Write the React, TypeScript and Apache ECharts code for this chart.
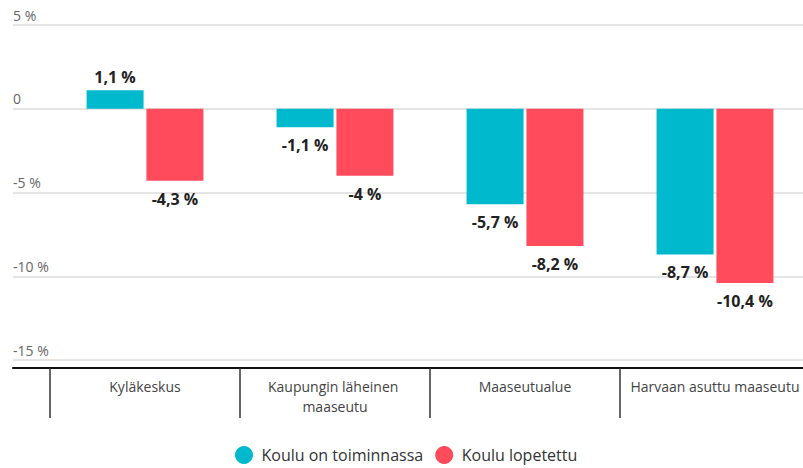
import React, { useEffect, useRef } from "react";
import * as echarts from "echarts";

const categories = ["Kyläkeskus", "Kaupungin läheinen maaseutu", "Maaseutualue", "Harvaan asuttu maaseutu"];
const seriesNames = ["Koulu on toiminnassa", "Koulu lopetettu"];
const activeValues = [1.1, -1.1, -5.7, -8.7];
const closedValues = [-4.3, -4, -8.2, -10.4];
const yTicks = { min: -15, max: 5, interval: 5 };

const TEAL = "#00b9cc";
const RED = "#ff4b5c";
const FONT = "Open Sans";

const fmt = (v: number) => String(v).replace(".", ",") + " %";

const makeData = (vals: number[]) =>
  vals.map((v) => ({
    value: v,
    label: v >= 0 ? { position: "top", distance: 5 } : { position: "bottom", distance: 10 },
  }));

export default function App() {
  const ref = useRef<HTMLDivElement>(null);
  useEffect(() => {
    if (!ref.current) return;
    const chart = echarts.init(ref.current, undefined, { renderer: "svg" });
    const barLabel = {
      show: true,
      formatter: (p: any) => fmt(p.value),
      fontFamily: FONT,
      fontWeight: "bold",
      fontSize: 16,
      color: "#222",
    };
    chart.setOption({
      animation: false,
      backgroundColor: "#fff",
      textStyle: { fontFamily: FONT },
      legend: {
        data: seriesNames,
        top: 441,
        left: 230,
        icon: "circle",
        itemWidth: 25,
        itemHeight: 18,
        itemGap: 12,
        symbolKeepAspect: true,
        textStyle: { fontFamily: FONT, fontSize: 16, color: "#333" },
      },
      grid: [
        { left: 13, right: 0, top: 25, height: 335, outerBoundsMode: "none" },
        { left: 50, width: 760, top: 25, height: 335, outerBoundsMode: "none" },
      ],
      xAxis: [
        {
          gridIndex: 0,
          type: "value",
          min: 0,
          max: 1,
          offset: 8,
          axisLine: { show: true, onZero: false, lineStyle: { color: "#111", width: 2 } },
          axisTick: { show: false },
          axisLabel: { show: false },
          splitLine: { show: false },
        },
        {
          gridIndex: 1,
          type: "category",
          data: categories,
          offset: 8,
          axisLine: { show: false, onZero: false },
          axisTick: { show: true, length: 50, lineStyle: { color: "#333", width: 1.5 } },
          axisLabel: {
            margin: 8,
            color: "#444",
            fontFamily: FONT,
            fontSize: 14,
            lineHeight: 20,
            width: 185,
            overflow: "break",
            interval: 0,
          },
          splitLine: { show: false },
        },
      ],
      yAxis: [
        {
          gridIndex: 0,
          type: "value",
          ...yTicks,
          axisLine: { show: false },
          axisTick: { show: false },
          axisLabel: {
            inside: true,
            margin: 0,
            verticalAlign: "bottom",
            padding: [0, 0, 3, 0],
            color: "#666",
            fontFamily: FONT,
            fontSize: 14,
            formatter: (v: number) => (v === 0 ? "0" : v + " %"),
          },
          splitLine: { show: true, lineStyle: { color: "#dcdcdc", width: 1.5 } },
        },
        {
          gridIndex: 1,
          type: "value",
          ...yTicks,
          show: false,
          splitLine: { show: false },
        },
      ],
      series: [
        {
          name: seriesNames[0],
          type: "bar",
          xAxisIndex: 1,
          yAxisIndex: 1,
          data: makeData(activeValues),
          barWidth: 57,
          barGap: "5%",
          itemStyle: { color: TEAL },
          label: barLabel,
        },
        {
          name: seriesNames[1],
          type: "bar",
          xAxisIndex: 1,
          yAxisIndex: 1,
          data: makeData(closedValues),
          barWidth: 57,
          barGap: "5%",
          itemStyle: { color: RED },
          label: barLabel,
        },
      ],
    });
    return () => chart.dispose();
  }, []);
  return (
    <div
      ref={ref}
      style={{ position: "fixed", left: 0, top: 0, width: 803, height: 468, background: "#fff" }}
    />
  );
}
